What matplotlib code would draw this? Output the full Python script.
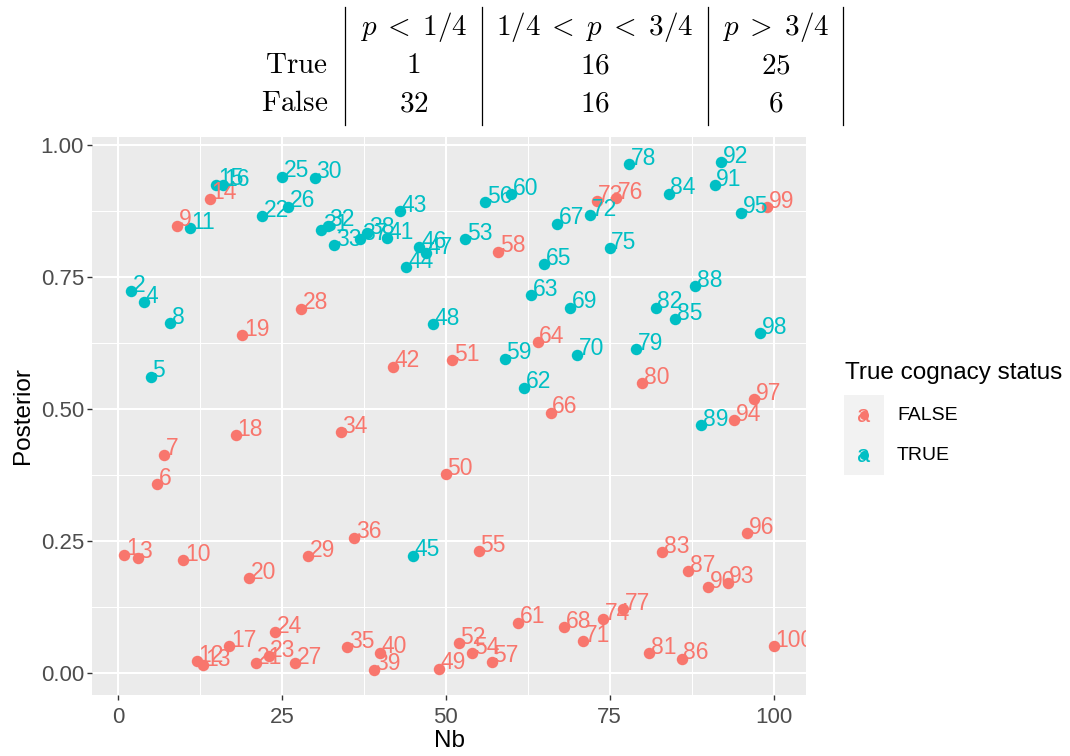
import matplotlib
matplotlib.use("Agg")
import matplotlib.pyplot as plt
from matplotlib.ticker import FixedLocator
from matplotlib.transforms import ScaledTranslation

# ---------------- data ----------------
nb = list(range(1, 101))
posterior = [
    0.224, 0.723, 0.218, 0.702, 0.561, 0.358, 0.413, 0.662, 0.847, 0.213,
    0.843, 0.022, 0.014, 0.898, 0.925, 0.924, 0.050, 0.450, 0.640, 0.179,
    0.018, 0.865, 0.031, 0.077, 0.940, 0.883, 0.018, 0.690, 0.221, 0.938,
    0.839, 0.847, 0.810, 0.456, 0.049, 0.256, 0.822, 0.833, 0.006, 0.038,
    0.824, 0.580, 0.875, 0.769, 0.222, 0.807, 0.795, 0.661, 0.008, 0.376,
    0.592, 0.056, 0.822, 0.037, 0.231, 0.891, 0.021, 0.798, 0.595, 0.907,
    0.095, 0.540, 0.716, 0.626, 0.774, 0.493, 0.851, 0.086, 0.692, 0.603,
    0.060, 0.867, 0.894, 0.102, 0.805, 0.899, 0.120, 0.963, 0.613, 0.549,
    0.037, 0.692, 0.229, 0.908, 0.670, 0.027, 0.192, 0.733, 0.469, 0.162,
    0.924, 0.967, 0.171, 0.478, 0.872, 0.265, 0.518, 0.643, 0.882, 0.050,
]
true_ids = [2, 4, 5, 8, 11, 15, 16, 22, 25, 26, 30, 31, 32, 33, 37, 38, 41, 43,
            44, 45, 46, 47, 48, 53, 56, 59, 60, 62, 63, 65, 67, 69, 70, 72, 75,
            78, 79, 82, 84, 85, 88, 89, 91, 92, 95, 98]
cognate = [n in true_ids for n in nb]

x_ticks = [0, 25, 50, 75, 100]
y_ticks = [0.00, 0.25, 0.50, 0.75, 1.00]
y_tick_labels = ["0.00", "0.25", "0.50", "0.75", "1.00"]

table_cols = [r"$p\;<\;1/4$", r"$1/4\;<\;p\;<\;3/4$", r"$p\;>\;3/4$"]
table_rows = ["True", "False"]
table_true = [1, 16, 25]
table_false = [32, 16, 6]

legend_title = "True cognacy status"
legend_labels = ["FALSE", "TRUE"]
colors = {False: "#F8766D", True: "#00BFC4"}

# ---------------- style ----------------
plt.rcParams["font.family"] = ["Liberation Sans", "DejaVu Sans"]
plt.rcParams["mathtext.fontset"] = "cm"

W, H = 1070, 756
fig = plt.figure(figsize=(W / 100, H / 100), dpi=100)

L, R, T, B = 92, 806, 137, 695
ax = fig.add_axes([L / W, 1 - B / H, (R - L) / W, (B - T) / H])
ax.set_facecolor("#EBEBEB")
for s in ax.spines.values():
    s.set_visible(False)

# ggplot-like expansion
xr = max(nb) - min(nb)
ax.set_xlim(min(nb) - 0.05 * xr, max(nb) + 0.05 * xr)
yr = max(posterior) - min(posterior)
ax.set_ylim(min(posterior) - 0.05 * yr, max(posterior) + 0.05 * yr)

ax.xaxis.set_major_locator(FixedLocator(x_ticks))
ax.yaxis.set_major_locator(FixedLocator(y_ticks))
ax.set_yticklabels(y_tick_labels)
ax.xaxis.set_minor_locator(FixedLocator([12.5, 37.5, 62.5, 87.5]))
ax.yaxis.set_minor_locator(FixedLocator([0.125, 0.375, 0.625, 0.875]))
ax.grid(which="major", color="white", linewidth=1.5)
ax.grid(which="minor", color="white", linewidth=0.75)
ax.set_axisbelow(True)
ax.tick_params(which="major", length=3.3, width=1.0, color="#333333",
               labelcolor="#4D4D4D", labelsize=16)
ax.tick_params(axis="x", which="major", pad=5)
ax.tick_params(axis="y", which="major", pad=2.5)
ax.tick_params(which="minor", length=0)

ax.set_xlabel("Nb", fontsize=17.5, labelpad=2)
ax.set_ylabel("Posterior", fontsize=17.5, labelpad=5)

for st in [False, True]:
    xs = [n for n, c in zip(nb, cognate) if c == st]
    ys = [p for p, c in zip(posterior, cognate) if c == st]
    ax.scatter(xs, ys, s=68, color=colors[st], linewidths=0, zorder=3)

offset = ax.transData + ScaledTranslation(1.2 / 72, -0.5 / 72, fig.dpi_scale_trans)
for n, p, c in zip(nb, posterior, cognate):
    ax.text(n, p, str(n), transform=offset, ha="left", va="baseline",
            fontsize=16.5, color=colors[c], zorder=4, clip_on=True)

# ---------------- overlay for table / legend (pixel coords) ----------------
ov = fig.add_axes([0, 0, 1, 1], facecolor="none")
ov.set_xlim(0, W)
ov.set_ylim(H, 0)
ov.axis("off")

# table
vlines_x = [345, 482, 708, 843]
for xv in vlines_x:
    ov.plot([xv, xv], [7, 125], color="black", linewidth=0.9)
col_centers = [413.5, 595, 775.5]
row_y = [27, 65, 103]
tfs = 21
for cx, lab in zip(col_centers, table_cols):
    ov.text(cx, row_y[0], lab, ha="center", va="center", fontsize=tfs)
for ry, rlab, vals in zip(row_y[1:], table_rows, [table_true, table_false]):
    ov.text(328, ry, r"$\mathrm{%s}$" % rlab, ha="right", va="center", fontsize=tfs)
    for cx, v in zip(col_centers, vals):
        ov.text(cx, ry, r"$%d$" % v, ha="center", va="center", fontsize=tfs)

# legend
ov.text(845, 373, legend_title, ha="left", va="center", fontsize=17.5)
ov.add_patch(plt.Rectangle((844, 395), 40, 80, facecolor="#F2F2F2",
                           edgecolor="none"))
for ky, lab, st in zip([415, 455], legend_labels, [False, True]):
    ov.plot([864], [ky], marker="o", markersize=6.5, color=colors[st],
            markeredgewidth=0)
    ov.text(864, ky + 1, "a", ha="center", va="center", fontsize=17,
            color=colors[st])
    ov.text(897, ky, lab, ha="left", va="center", fontsize=14, color="black")

fig.savefig("out.png", dpi=100)
